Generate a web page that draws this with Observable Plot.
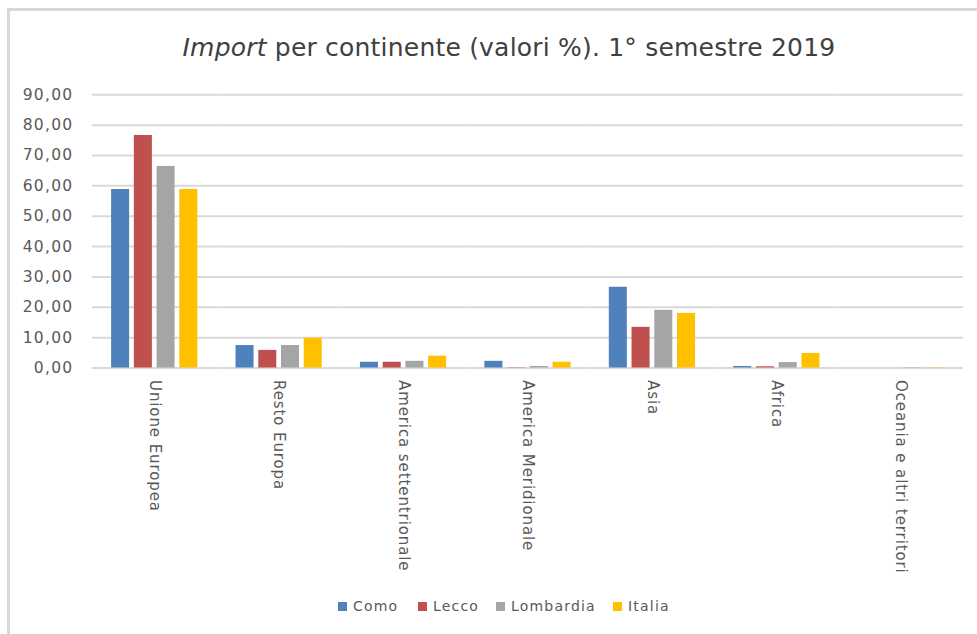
<!DOCTYPE html>
<html>
<head>
<meta charset="utf-8">
<script src="https://cdn.jsdelivr.net/npm/d3@7"></script>
<script src="https://cdn.jsdelivr.net/npm/@observablehq/plot@0.6"></script>
<style>
  html, body { margin: 0; padding: 0; background: #fff; }
  body { width: 977px; height: 634px; position: relative; overflow: hidden; font-family: "DejaVu Sans", sans-serif; }
  #frame { position: absolute; left: 7px; top: 8px; width: 1000px; height: 700px; border-left: 3px solid #d9d9d9; border-top: 3px solid #d9d9d9; box-sizing: border-box; }
  #title { position: absolute; left: 0; width: 1018px; top: 33px; text-align: center; font-size: 25px; letter-spacing: 0.2px; color: #404040; white-space: nowrap; }
  #chart { position: absolute; left: 0; top: 80px; }
  #legend { position: absolute; top: 597px; left: 0; height: 20px; font-size: 14px; letter-spacing: 1.2px; color: #595959; }
  .item { position: absolute; top: 0; white-space: nowrap; line-height: 18px; }
  .sw { display: inline-block; width: 9px; height: 9px; margin-right: 6px; vertical-align: 0px; }
  #chart g[aria-label="fx-axis tick label"] text { letter-spacing: 0.9px; }
  #chart g[aria-label="y-axis tick label"] text { letter-spacing: 1.3px; font-size: 15.5px; }
</style>
</head>
<body>
<div id="frame"></div>
<div id="title"><i>Import</i> per continente (valori %). 1° semestre 2019</div>
<div id="chart"></div>
<div id="legend"></div>
<script>
const continents = ["Unione Europea", "Resto Europa", "America settentrionale", "America Meridionale", "Asia", "Africa", "Oceania e altri territori"];
const series = ["Como", "Lecco", "Lombardia", "Italia"];
const colors = ["#4f81bd", "#c0504d", "#a5a5a5", "#ffc000"];
const como      = [58.8, 7.4, 1.9, 2.2, 26.6, 0.5, 0.0];
const lecco     = [76.6, 5.8, 1.9, 0.1, 13.4, 0.4, 0.0];
const lombardia = [66.4, 7.4, 2.2, 0.5, 19.0, 1.8, 0.1];
const italia    = [58.8, 9.8, 3.9, 1.9, 18.0, 4.8, 0.1];
const yTicks = [0, 10, 20, 30, 40, 50, 60, 70, 80, 90];
const legendX = [338, 418, 496, 613];

const values = [como, lecco, lombardia, italia];
const data = [];
continents.forEach((c, i) => series.forEach((s, j) => data.push({continent: c, series: s, value: values[j][i]})));

const fmt = v => v.toFixed(2).replace(".", ",");

const chart = Plot.plot({
  width: 977,
  height: 510,
  marginLeft: 92,
  marginRight: 14,
  marginTop: 14.3,
  marginBottom: 222.5,
  style: {fontFamily: "DejaVu Sans, sans-serif", fontSize: "15px", color: "#595959", background: "transparent"},
  fx: {domain: continents, padding: 0, round: false, label: null, axis: "bottom", tickRotate: 90, tickSize: 0, tickPadding: 12},
  x: {domain: series, paddingInner: 0.207, paddingOuter: 0.84, round: false, axis: null},
  y: {domain: [0, 90], ticks: yTicks, tickFormat: fmt, label: null, tickSize: 0, tickPadding: 19},
  color: {domain: series, range: colors},
  marks: [
    Plot.ruleY(yTicks, {stroke: "#d9d9d9", strokeWidth: 2}),
    Plot.barY(data, {fx: "continent", x: "series", y: "value", fill: "series"})
  ]
});
document.getElementById("chart").appendChild(chart);

const legend = document.getElementById("legend");
series.forEach((s, i) => {
  const it = document.createElement("div");
  it.className = "item";
  it.style.left = legendX[i] + "px";
  it.innerHTML = `<span class="sw" style="background:${colors[i]}"></span>${s}`;
  legend.appendChild(it);
});
</script>
</body>
</html>
